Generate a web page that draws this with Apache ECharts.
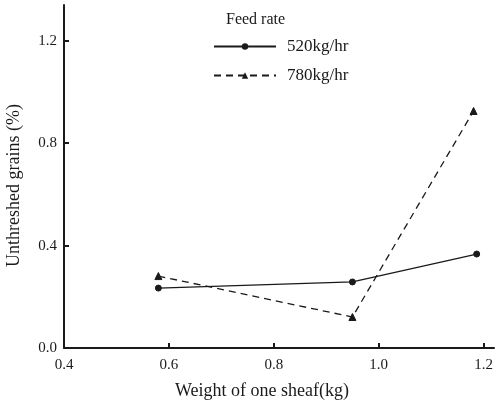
<!DOCTYPE html>
<html lang="en">
<head>
    <meta charset="UTF-8">
    <title>Feed rate</title>
    <script src="https://cdn.jsdelivr.net/npm/echarts@6/dist/echarts.min.js"></script>
    <style>
        body { margin: 0; background: #fff; }
    </style>
</head>
<body>
<div id="main" style="width: 498px;height:405px;"></div>
</body>
<script>
    // sheaf weight (kg) and unthreshed grains (%)
    var weight520 = [0.58, 0.95, 1.187];
    var grains520 = [0.234, 0.258, 0.367];
    var weight780 = [0.58, 0.95, 1.181];
    var grains780 = [0.281, 0.121, 0.926];
    var xTicks = [0.4, 0.6, 0.8, 1.0, 1.2];
    var yTicks = [0.0, 0.4, 0.8, 1.2];

    function pairs(xs, ys) {
        var out = [];
        for (var i = 0; i < xs.length; i++) {
            out.push([xs[i], ys[i]]);
        }
        return out;
    }

    var ink = '#1a1a1a';
    var serif = '"Liberation Serif", "DejaVu Serif", serif';

    var myChart = echarts.init(document.getElementById('main'));

    var option = {
        backgroundColor: '#fff',
        animation: false,
        textStyle: { fontFamily: serif, color: ink },
        title: {
            text: 'Feed rate',
            left: 221,
            top: 7,
            textStyle: { fontFamily: serif, fontSize: 16, fontWeight: 'normal', color: ink }
        },
        legend: {
            orient: 'vertical',
            left: 208,
            top: 33,
            itemWidth: 62,
            itemHeight: 8,
            itemGap: 12,
            textStyle: { fontFamily: serif, fontSize: 17, color: ink, padding: [0, 0, 0, 6] },
            data: ['520kg/hr', '780kg/hr']
        },
        grid: {
            left: 64,
            right: 4,
            top: 5,
            bottom: 57,
            containLabel: false,
            outerBoundsMode: 'none'
        },
        xAxis: {
            type: 'value',
            min: 0.4,
            max: 1.22,
            interval: 0.2,
            name: 'Weight of one sheaf(kg)',
            nameLocation: 'middle',
            nameGap: 34,
            nameTextStyle: { fontFamily: serif, fontSize: 18, color: ink, padding: [0, 34, 0, 0] },
            splitLine: { show: false },
            axisLine: { lineStyle: { color: ink, width: 2 } },
            axisTick: { inside: true, length: 5, lineStyle: { color: ink, width: 2 } },
            axisLabel: {
                fontFamily: serif, fontSize: 15, color: ink, margin: 10,
                showMaxLabel: false,
                formatter: function (v) {
                    var ok = xTicks.some(function (t) { return Math.abs(t - v) < 1e-6; });
                    return ok ? v.toFixed(1) : '';
                }
            }
        },
        yAxis: {
            type: 'value',
            min: 0,
            max: 1.34,
            interval: 0.4,
            name: 'Unthreshed grains (%)',
            nameLocation: 'middle',
            nameRotate: 90,
            nameGap: 41,
            nameTextStyle: { fontFamily: serif, fontSize: 18, color: ink, padding: [0, 18, 0, 0] },
            splitLine: { show: false },
            axisLine: { lineStyle: { color: ink, width: 2 } },
            axisTick: { inside: true, length: 5, lineStyle: { color: ink, width: 2 } },
            axisLabel: {
                fontFamily: serif, fontSize: 15, color: ink, margin: 7,
                showMaxLabel: false,
                formatter: function (v) {
                    var ok = yTicks.some(function (t) { return Math.abs(t - v) < 1e-6; });
                    return ok ? v.toFixed(1) : '';
                }
            }
        },
        series: [
            {
                name: '520kg/hr',
                type: 'line',
                data: pairs(weight520, grains520),
                symbol: 'circle',
                symbolSize: 6,
                lineStyle: { color: ink, width: 1.3, type: 'solid' },
                itemStyle: { color: ink, borderColor: ink }
            },
            {
                name: '780kg/hr',
                type: 'line',
                data: pairs(weight780, grains780),
                symbol: 'triangle',
                symbolSize: 7,
                lineStyle: { color: ink, width: 1.3, type: [7, 5] },
                itemStyle: { color: ink, borderColor: ink }
            }
        ]
    };

    myChart.setOption(option);
</script>
</html>
